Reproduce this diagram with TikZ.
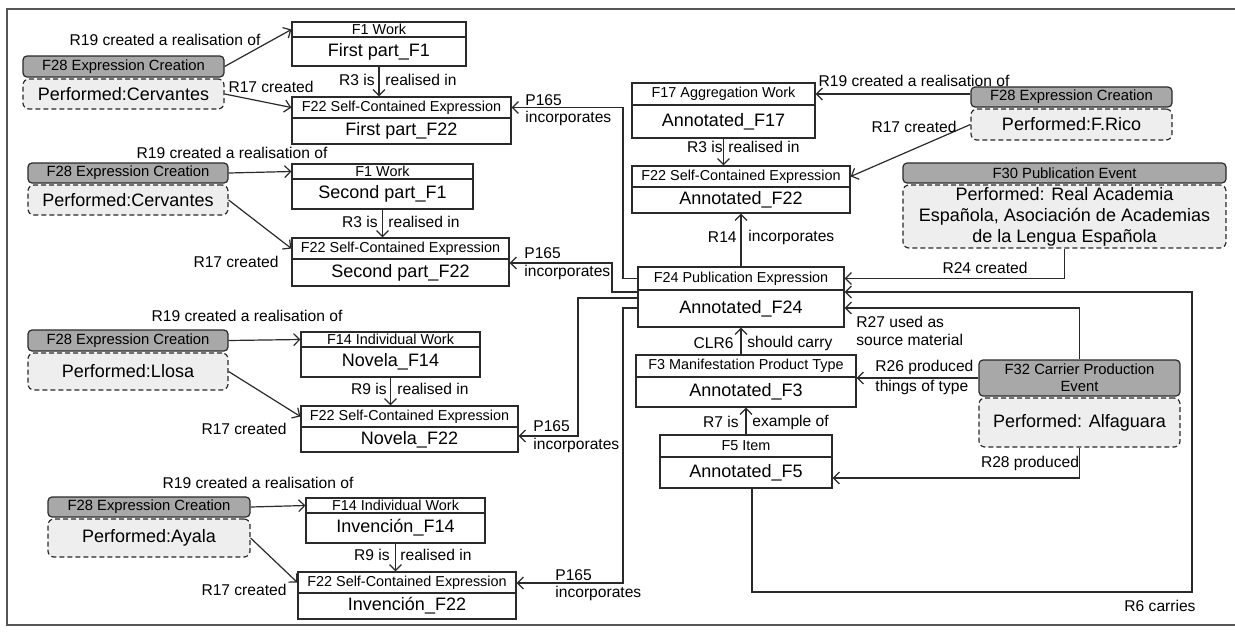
\documentclass[tikz,border=0pt]{standalone}
\usepackage{fontspec}
\setmainfont{Liberation Sans}
\usetikzlibrary{arrows.meta}
\definecolor{evgray}{HTML}{A8A8A8}
\definecolor{evlight}{HTML}{EEEEEE}
\definecolor{ink}{HTML}{2A2A2A}
\tikzset{
  ln/.style={line width=0.6pt, draw=ink},
  arr/.style={ln, -{Straight Barb[length=3pt,width=6pt]}},
  frame/.style={line width=0.8pt, draw=ink!80},
  hdr/.style={draw=ink, line width=0.6pt, inner sep=0pt, font=\fontsize{7.2}{8}\selectfont},
  bdy/.style={draw=ink, line width=0.6pt, inner sep=0pt, font=\fontsize{9}{10}\selectfont},
  ehdr/.style={draw=ink, fill=evgray, rounded corners=2pt, line width=0.6pt, inner sep=0pt, align=center, font=\fontsize{7.4}{8.6}\selectfont},
  ebdy/.style={draw=ink, fill=evlight, dash pattern=on 2.5pt off 1.5pt, rounded corners=3pt, line width=0.6pt, inner sep=0pt, align=center, font=\fontsize{9}{10.5}\selectfont},
  lbl/.style={inner sep=0pt, font=\fontsize{7.8}{9}\selectfont},
}
% name, x1, y1, x2, ydiv, y2, header, body   (pixel units, 1px = 0.5pt)
\newcommand\ubox[8]{%
  \pgfmathsetmacro\bxw{(#4-#2)*0.5}%
  \pgfmathsetmacro\bxa{(#5-#3)*0.5}%
  \pgfmathsetmacro\bxb{(#6-#5)*0.5}%
  \node[hdr, minimum width=\bxw pt, minimum height=\bxa pt] (#1h) at ({(#2+#4)/2},{(#3+#5)/2}) {#7};
  \node[bdy, minimum width=\bxw pt, minimum height=\bxb pt] (#1b) at ({(#2+#4)/2},{(#5+#6)/2}) {#8};
}
% name, x1, y1, x2, yh2, yb1, y2, header, body
\newcommand\ebox[9]{%
  \pgfmathsetmacro\bxw{(#4-#2)*0.5}%
  \pgfmathsetmacro\bxa{(#5-#3)*0.5}%
  \pgfmathsetmacro\bxb{(#7-#6)*0.5}%
  \node[ehdr, minimum width=\bxw pt, minimum height=\bxa pt] (#1h) at ({(#2+#4)/2},{(#3+#5)/2}) {#8};
  \node[ebdy, minimum width=\bxw pt, minimum height=\bxb pt] (#1b) at ({(#2+#4)/2},{(#6+#7)/2}) {#9};
}
\begin{document}
\begin{tikzpicture}[x=0.5pt,y=-0.5pt]
\useasboundingbox (0,0) rectangle (1235,632);
\draw[frame] (1235,9) -- (7,9) -- (7,625) -- (1235,625);

% ---------- group A ----------
\ebox{cA}{23}{56}{224}{77}{79}{109}{F28 Expression Creation}{Performed:Cervantes}
\ubox{wA}{292}{22}{466}{37}{66}{F1 Work}{First part\_F1}
\ubox{eA}{292}{97}{511}{118}{144}{F22 Self-Contained Expression}{First part\_F22}
% ---------- group B ----------
\ebox{cB}{28}{163}{228}{183}{185}{215}{F28 Expression Creation}{Performed:Cervantes}
\ubox{wB}{292}{164}{473}{179}{209}{F1 Work}{Second part\_F1}
\ubox{eB}{292}{238}{509}{259}{286}{F22 Self-Contained Expression}{Second part\_F22}
% ---------- group C ----------
\ebox{cC}{28}{330}{228}{351}{353}{390}{F28 Expression Creation}{Performed:Llosa}
\ubox{wC}{301}{332}{480}{347}{377}{F14 Individual Work}{Novela\_F14}
\ubox{eC}{301}{406}{518}{427}{452}{F22 Self-Contained Expression}{Novela\_F22}
% ---------- group D ----------
\ebox{cD}{48}{497}{250}{517}{519}{557}{F28 Expression Creation}{Performed:Ayala}
\ubox{wD}{306}{498}{485}{513}{543}{F14 Individual Work}{Invención\_F14}
\ubox{eD}{298}{572}{516}{593}{619}{F22 Self-Contained Expression}{Invención\_F22}
% ---------- centre ----------
\ubox{ag}{632}{83}{815}{105}{138}{F17 Aggregation Work}{Annotated\_F17}
\ubox{an}{632}{166}{850}{187}{213}{F22 Self-Contained Expression}{Annotated\_F22}
\ubox{pe}{638}{267}{844}{290}{327}{F24 Publication Expression}{Annotated\_F24}
\ubox{mp}{636}{355}{856}{377}{407}{F3 Manifestation Product Type}{Annotated\_F3}
\ubox{it}{660}{435}{832}{457}{488}{F5 Item}{Annotated\_F5}
% ---------- right ----------
\ebox{cR}{971}{87}{1172}{107}{109}{140}{F28 Expression Creation}{Performed:F.Rico}
\ebox{pb}{903}{163}{1226}{183}{185}{248}{F30 Publication Event}{Performed: Real Academia\\Española, Asociación de Academias\\de la Lengua Española}
\ebox{cp}{979}{360}{1180}{396}{398}{447}{F32 Carrier Production\\Event}{Performed: Alfaguara}

% ---------- connectors group A ----------
\draw[arr] (cAh.east) -- (wAh.west);
\draw[arr] (cAb.east) -- (eAh.west);
\draw[arr] (wAb.south) -- (wAb.south |- eAh.north);
\draw[arr] (peh.west) -| (623,107.5) -- (eAh.east);
\node[lbl] at (165,40) {R19 created a realisation of};
\node[lbl] at (271,87) {R17 created};
\node[lbl,anchor=east] at (375,80) {R3 is};
\node[lbl,anchor=west] at (385,80) {realised in};
\node[lbl,anchor=west] at (525,100) {P165};
\node[lbl,anchor=west] at (525,118) {incorporates};
% ---------- connectors group B ----------
\draw[arr] (cBh.east) -- (wBh.west);
\draw[arr] (cBb.east) -- (eBh.west);
\draw[arr] (wBb.south) -- (wBb.south |- eBh.north);
\coordinate (pB) at (peh.west |- 0,292);
\draw[arr] (pB) -- (612,292) -- (612,263) -- (eBb.east |- 0,263);
\node[lbl] at (232,153) {R19 created a realisation of};
\node[lbl] at (236,262) {R17 created};
\node[lbl,anchor=east] at (378,222) {R3 is};
\node[lbl,anchor=west] at (388,222) {realised in};
\node[lbl,anchor=west] at (524,253) {P165};
\node[lbl,anchor=west] at (524,272) {incorporates};
% ---------- connectors group C ----------
\draw[arr] (cCh.east) -- (wCh.west);
\draw[arr] (cCb.east) -- (eCh.west);
\draw[arr] (wCb.south) -- (wCb.south |- eCh.north);
\coordinate (pC) at (peh.west |- 0,298);
\draw[arr] (pC) -- (578,298) -- (578,436) -- (eCb.east |- 0,436);
\node[lbl] at (247,316) {R19 created a realisation of};
\node[lbl] at (244,429) {R17 created};
\node[lbl,anchor=east] at (387,389) {R9 is};
\node[lbl,anchor=west] at (397,389) {realised in};
\node[lbl,anchor=west] at (533,426) {P165};
\node[lbl,anchor=west] at (533,445) {incorporates};
% ---------- connectors group D ----------
\draw[arr] (cDh.east) -- (wDh.west);
\draw[arr] (cDb.east) -- (eDh.west);
\draw[arr] (wDb.south) -- (wDb.south |- eDh.north);
\coordinate (pD) at (peb.west |- 0,308);
\draw[arr] (pD) -- (623,308) -- (623,583) -- (eDh.east |- 0,583);
\node[lbl] at (258,483) {R19 created a realisation of};
\node[lbl] at (244,590) {R17 created};
\node[lbl,anchor=east] at (390,555) {R9 is};
\node[lbl,anchor=west] at (400,555) {realised in};
\node[lbl,anchor=west] at (555,575) {P165};
\node[lbl,anchor=west] at (555,593) {incorporates};
% ---------- centre ----------
\draw[arr] (cRh.west |- agh.east) -- (agh.east);
\draw[arr] (cRb.west) -- (anh.east);
\draw[arr] (agb.south) -- (agb.south |- anh.north);
\draw[arr] (peh.north) -- (peh.north |- anb.south);
\draw[arr] (peb.south |- mph.north) -- (peb.south);
\draw[arr] (ith.north) -- (ith.north |- mpb.south);
\node[lbl] at (914,81) {R19 created a realisation of};
\node[lbl] at (914,127) {R17 created};
\node[lbl,anchor=east] at (723,147) {R3 is};
\node[lbl,anchor=west] at (728,147) {realised in};
\node[lbl,anchor=east] at (737,237) {R14};
\node[lbl,anchor=west] at (748,237) {incorporates};
\node[lbl,anchor=east] at (734,343) {CLR6};
\node[lbl,anchor=west] at (747,343) {should carry};
\node[lbl,anchor=east] at (739,422) {R7 is};
\node[lbl,anchor=west] at (752,422) {example of};
% ---------- right connectors ----------
\draw[arr] (pbb.south) |- (peh.east);
\node[lbl] at (985,268) {R24 created};
\draw[arr] (itb.south -| 752,0) -- (752,592) -- (1192,592) -- (1192,292) -- (peb.east |- 0,292);
\node[lbl] at (1160,606) {R6 carries};
\draw[arr] (cph.north) |- (peb.east |- 0,308);
\node[lbl,anchor=west] at (856,322) {R27 used as};
\node[lbl,anchor=west] at (856,340) {source material};
\draw[arr] (cph.west) -- (cph.west -| mpb.east);
\node[lbl,anchor=west] at (875,367) {R26 produced};
\node[lbl,anchor=west] at (875,387) {things of type};
\draw[arr] (cpb.south) |- (itb.east |- 0,478);
\node[lbl] at (1030,463) {R28 produced};
\end{tikzpicture}
\end{document}
